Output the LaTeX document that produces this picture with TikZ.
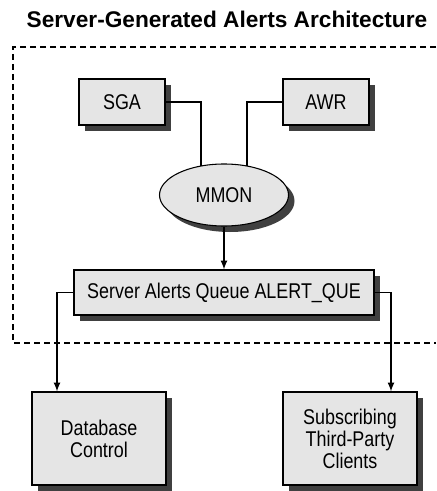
\documentclass[tikz,border=0pt]{standalone}
\usepackage{fontspec}
\setmainfont{Liberation Sans}[FakeStretch=0.84]
\newfontfamily\headfont{Liberation Sans}
\usetikzlibrary{shapes.geometric,shadows}

\begin{document}
\begin{tikzpicture}[>=latex, x=0.75pt, y=-0.75pt,
  shade/.style={drop shadow={shadow xshift=4.5pt, shadow yshift=-4.5pt, fill=black!75, opacity=1}},
  box/.style={draw, line width=0.8pt, fill=black!10, shade, align=center, font=\fontsize{16}{16.5}\selectfont, inner sep=0pt},
  link/.style={line width=0.9pt},
  flow/.style={->, line width=1.3pt}]
\useasboundingbox (0,0) rectangle (436,491);
\node[font=\headfont\bfseries\fontsize{17}{20}\selectfont] (title) at (227,19) {Server-Generated Alerts Architecture};
\draw[line width=1.1pt, dash pattern=on 4.5pt off 3pt] (436,47) -- (13,47) -- (13,343) -- (436,343);
\node[box, minimum width=64.5pt, minimum height=34.5pt] (sga) at (122,102) {SGA};
\node[box, minimum width=64.5pt, minimum height=34.5pt] (awr) at (326,102) {AWR};
\node[box, ellipse, minimum width=96.75pt, minimum height=46.5pt] (mmon) at (224,195) {MMON};
\node[box, minimum width=225pt, minimum height=33.75pt] (que) at (224,292.5) {Server Alerts Queue ALERT\_QUE};
\node[box, minimum width=100.5pt, minimum height=69.75pt] (dbc) at (99,438.5) {Database\\Control};
\node[box, minimum width=100.5pt, minimum height=69.75pt] (tpc) at (350,438.5) {Subscribing\\Third-Party\\Clients};
\draw[link] (sga.east) -| (mmon.128);
\draw[link] (awr.west) -| (mmon.52);
\draw[flow] (mmon.south) -- (que.north);
\draw[flow] (que.west) -| ([xshift=-31.5pt]dbc.north);
\draw[flow] (que.east) -| ([xshift=30.75pt]tpc.north);
\end{tikzpicture}
\end{document}
